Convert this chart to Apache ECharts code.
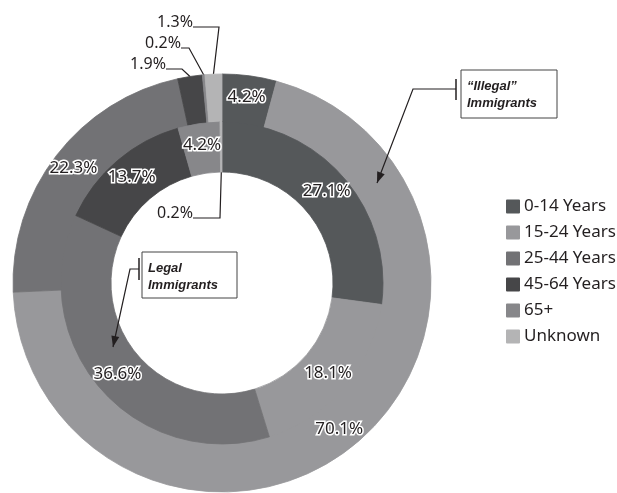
<!DOCTYPE html>
<html>
<head>
<meta charset="utf-8">
<script src="https://cdn.jsdelivr.net/npm/echarts@6/dist/echarts.min.js"></script>
<style>
  html, body { margin: 0; padding: 0; background: #fff; }
  #chart { width: 617px; height: 493px; }
</style>
</head>
<body>
<div id="chart"></div>
<script>
// age groups
const groups = ["0-14 Years", "15-24 Years", "25-44 Years", "45-64 Years", "65+", "Unknown"];
const colors = ["#55585a", "#98989b", "#727275", "#464648", "#87878a", "#b4b4b5"];
// outer ring: "Illegal" immigrants, inner ring: legal immigrants (percent)
const illegalPct = [4.2, 70.1, 22.3, 1.9, 0.2, 1.3];
const legalPct = [27.1, 18.1, 36.6, 13.7, 4.2, 0.2];

const cx = 222, cy = 283;
const ink = "#231f20";

// where the small-slice labels go (label right end, middle y), elbow x
const outerCallouts = {
  3: { x: 166, y: 64, elbow: 182 },
  4: { x: 181, y: 43, elbow: 189 },
  5: { x: 193, y: 22, elbow: 219 }
};
const innerCallouts = {
  5: { x: 193, y: 213, elbow: 220 }
};

function makeData(values, callouts) {
  return values.map(function (v, i) {
    // border in the fill colour hides the light seams between sectors
    let item = {
      name: groups[i],
      value: v,
      itemStyle: { color: colors[i], borderColor: colors[i], borderWidth: 0.8 }
    };
    if (callouts[i]) {
      item.label = {
        position: "outside",
        color: ink,
        fontSize: 16,
        textBorderWidth: 0
      };
      item.labelLine = { show: true, length: 5, length2: 5, lineStyle: { color: ink, width: 1.2 } };
    }
    return item;
  });
}

function layoutFor(callouts, inner) {
  return function (params) {
    const c = callouts[params.dataIndex];
    if (!c) return {};
    let start = params.labelLinePoints ? params.labelLinePoints[0] : [cx, cy];
    if (inner) {
      // run the leader to the hole edge instead of the outer edge
      const k = 111 / 161;
      start = [cx + (start[0] - cx) * k, cy + (start[1] - cy) * k];
    }
    const ly = c.y + 5;
    return {
      x: c.x,
      y: c.y,
      align: "right",
      verticalAlign: "middle",
      labelLinePoints: [start, [c.elbow, ly], [c.x, ly]]
    };
  };
}

function arrowHead(x1, y1, x2, y2) {
  const dx = x2 - x1, dy = y2 - y1;
  const len = Math.sqrt(dx * dx + dy * dy);
  const ux = dx / len, uy = dy / len;
  const bx = x2 - ux * 11, by = y2 - uy * 11;
  return [[x2, y2], [bx - uy * 4, by + ux * 4], [bx + uy * 4, by - ux * 4]];
}

function callout(box, lines, tick, path) {
  const els = [];
  els.push({
    type: "rect",
    z: 100,
    shape: { x: box[0], y: box[1], width: box[2], height: box[3] },
    style: { fill: "#fff", stroke: "#444", lineWidth: 1 }
  });
  lines.forEach(function (t, i) {
    els.push({
      type: "text",
      z: 101,
      x: box[0] + 6,
      y: box[1] + 16 + i * 17,
      style: {
        text: t,
        fill: ink,
        font: "italic bold 13px 'Liberation Sans', Arial, sans-serif",
        textVerticalAlign: "middle"
      }
    });
  });
  els.push({
    type: "line",
    z: 100,
    shape: { x1: tick[0], y1: tick[1], x2: tick[0], y2: tick[2] },
    style: { stroke: ink, lineWidth: 1.5 }
  });
  els.push({
    type: "polyline",
    z: 100,
    shape: { points: path },
    style: { stroke: ink, lineWidth: 1.2, fill: null }
  });
  const a = path[path.length - 2], b = path[path.length - 1];
  els.push({
    type: "polygon",
    z: 100,
    shape: { points: arrowHead(a[0], a[1], b[0], b[1]) },
    style: { fill: ink }
  });
  return els;
}

const insideLabel = {
  show: true,
  position: "inside",
  formatter: "{c}%",
  fontFamily: "Noto Sans",
  fontSize: 17,
  letterSpacing: -0.5,
  color: ink,
  textBorderColor: "#fff",
  textBorderWidth: 3
};

const chart = echarts.init(document.getElementById("chart"));
chart.setOption({
  animation: false,
  legend: {
    orient: "vertical",
    left: 501,
    top: 193,
    icon: "rect",
    itemWidth: 12,
    itemHeight: 12,
    itemGap: 9,
    data: groups,
    textStyle: { fontFamily: "Noto Sans", fontSize: 17, color: ink },
    selectedMode: false
  },
  graphic: [].concat(
    callout([461, 70, 96, 48], ["\u201cIllegal\u201d", "Immigrants"], [456, 79, 100],
      [[456, 89], [413, 89], [377, 183]]),
    callout([142, 252, 95, 46], ["Legal", "Immigrants"], [139, 258, 280],
      [[139, 269], [130, 269], [113, 347]])
  ),
  series: [
    {
      name: "Illegal",
      type: "pie",
      center: [cx, cy],
      radius: [160, 209],
      avoidLabelOverlap: false,
      label: insideLabel,
      labelLayout: layoutFor(outerCallouts, false),
      emphasis: { disabled: true },
      data: makeData(illegalPct, outerCallouts)
    },
    {
      name: "Legal",
      type: "pie",
      center: [cx, cy],
      radius: [111, 161],
      avoidLabelOverlap: false,
      label: insideLabel,
      labelLayout: layoutFor(innerCallouts, true),
      emphasis: { disabled: true },
      data: makeData(legalPct, innerCallouts)
    }
  ]
});
</script>
</body>
</html>
